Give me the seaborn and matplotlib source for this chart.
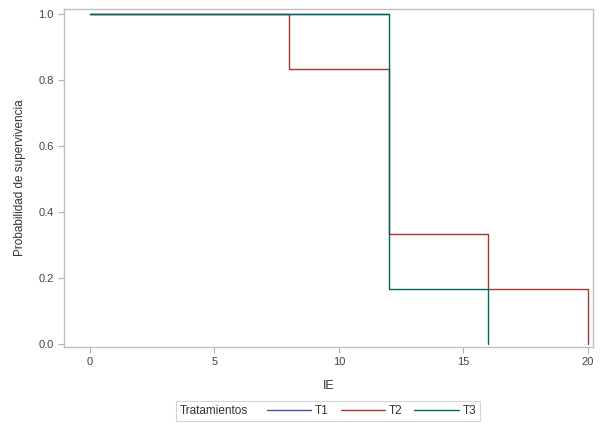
import pandas as pd
import matplotlib
matplotlib.use("Agg")
import matplotlib.pyplot as plt
import seaborn as sns
from matplotlib.lines import Line2D
from matplotlib.offsetbox import HPacker

# survival estimates per treatment (Kaplan-Meier steps)
t1_time = [0, 12]
t1_surv = [1.0, 1.0]
t2_time = [0, 8, 12, 16, 20]
t2_surv = [1.0, 0.8333, 0.3333, 0.1667, 0.0]
t3_time = [0, 12, 16]
t3_surv = [1.0, 0.1667, 0.0]

groups = ["T1", "T2", "T3"]
colors = ["#445694", "#A23A2E", "#01665E"]

rows = []
for g, tt, ss in zip(groups, [t1_time, t2_time, t3_time], [t1_surv, t2_surv, t3_surv]):
    for t, s in zip(tt, ss):
        rows.append({"IE": t, "surv": s, "Tratamiento": g})
df = pd.DataFrame(rows)

sns.set_style("white")
plt.rcParams["font.family"] = ["Liberation Sans", "DejaVu Sans"]

fig = plt.figure(figsize=(6.05, 4.29), dpi=100)
ax = fig.add_axes([0.106, 0.191, 0.874, 0.788])

sns.lineplot(data=df, x="IE", y="surv", hue="Tratamiento", palette=colors,
             estimator=None, drawstyle="steps-post", linewidth=1.0,
             legend=False, ax=ax)

ax.set_xlim(-1.04, 20.2)
ax.set_ylim(-0.009, 1.015)
ax.set_xticks([0, 5, 10, 15, 20])
ax.set_yticks([0.0, 0.2, 0.4, 0.6, 0.8, 1.0])
ax.set_yticklabels(["0.0", "0.2", "0.4", "0.6", "0.8", "1.0"])
ax.set_xlabel("IE", fontsize=9, color="#333333", labelpad=9)
ax.set_ylabel("Probabilidad de supervivencia", fontsize=8.5, color="#333333", labelpad=9)
ax.tick_params(axis="both", labelsize=8, labelcolor="#444444", length=4,
               width=0.8, direction="out", bottom=True, left=True, color="#b0b0b0")
for sp in ax.spines.values():
    sp.set_color("#c0c0c0")
    sp.set_linewidth(1.0)

handles = [Line2D([], [], color=c, linewidth=1.0) for c in colors]
leg = fig.legend(handles, groups, title="Tratamientos", loc="center",
                 bbox_to_anchor=(0.542, 0.042), ncol=3, fontsize=8.5,
                 title_fontsize=8.5, frameon=True, fancybox=False,
                 handlelength=3.8, handletextpad=0.3, columnspacing=1.0,
                 borderpad=0.3, labelspacing=1.6, edgecolor="#cccccc")
# put the title on the same row as the entries, like the reference
leg._legend_box.__class__ = HPacker
leg._legend_box.align = "center"
leg.get_frame().set_linewidth(0.8)
leg.get_title().set_color("#333333")
for txt in leg.get_texts():
    txt.set_color("#333333")

fig.savefig("out.png", dpi=100)
